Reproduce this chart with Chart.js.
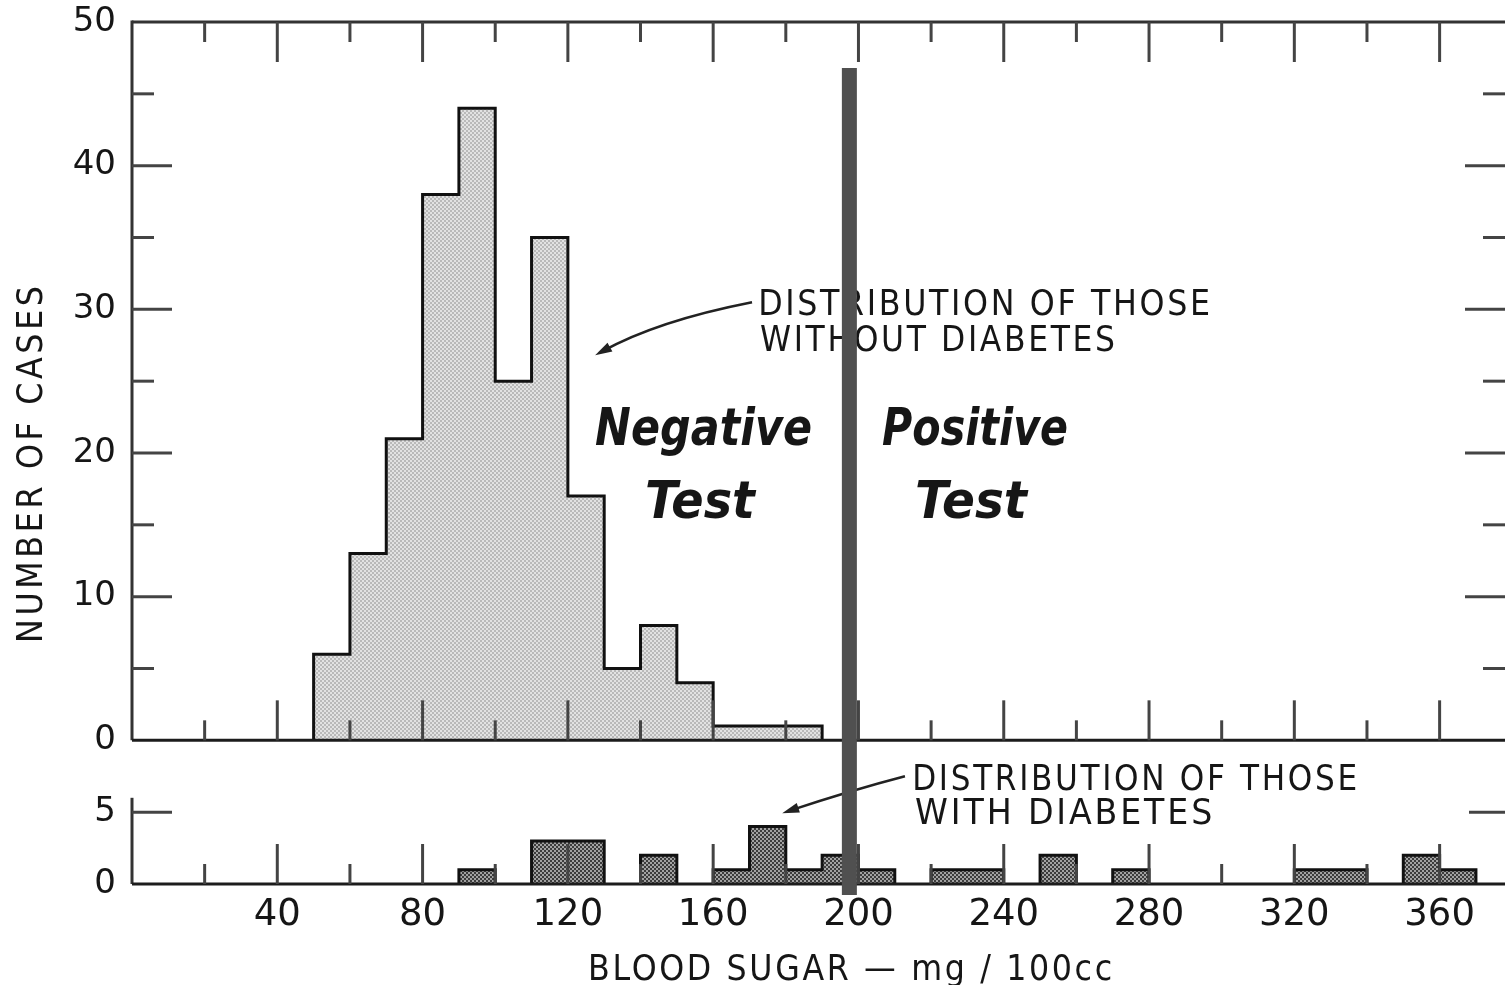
<!DOCTYPE html>
<html>
<head>
<meta charset="utf-8">
<title>Blood sugar</title>
<script src="https://cdn.jsdelivr.net/npm/chart.js@4.4.1/dist/chart.umd.min.js"></script>
<style>
  html, body { margin: 0; padding: 0; background: #fff; }
</style>
</head>
<body>
<canvas id="graficoGlucosa" width="1505" height="985"></canvas>
<script>
/*	Datos: intervalos de 10 mg/100cc (limite inferior) */
const intervalos = [50, 60, 70, 80, 90, 100, 110, 120, 130, 140, 150, 160, 170, 180, 190, 200,
                    210, 220, 230, 240, 250, 260, 270, 280, 290, 300, 310, 320, 330, 340, 350, 360];
const sinDiabetes = [6, 13, 21, 38, 44, 25, 35, 17, 5, 8, 4, 1, 1, 1, 0, 0,
                     0, 0, 0, 0, 0, 0, 0, 0, 0, 0, 0, 0, 0, 0, 0, 0];
const conDiabetes = [0, 0, 0, 0, 1, 0, 3, 3, 0, 2, 0, 1, 4, 1, 2, 1,
                     0, 1, 1, 0, 2, 0, 1, 0, 0, 0, 0, 1, 1, 0, 2, 1];
const etiquetasX = [40, 80, 120, 160, 200, 240, 280, 320, 360];
const etiquetasYSup = [0, 10, 20, 30, 40, 50];
const etiquetasYInf = [0, 5];
const puntoCorte = 197.5;

const FUENTE = '"DejaVu Sans", sans-serif';
const TINTA = '#161616';

// textos anotados (posiciones en unidades de los ejes)
const notas = [
  { txt: 'DISTRIBUTION OF THOSE', x0: 172.4, x1: 296.8, y: 29.6, eje: 'yTop', font: '36px ' + FUENTE, sp: 3 },
  { txt: 'WITHOUT DIABETES', x0: 172.9, x1: 270.6, y: 27.1, eje: 'yTop', font: '36px ' + FUENTE, sp: 3 },
  { txt: 'Negative', x0: 127.5, x1: 187.2, y: 20.55, eje: 'yTop', font: 'bold italic 52px ' + FUENTE, sp: 0 },
  { txt: 'Test', x0: 141.2, x1: 171.5, y: 15.5, eje: 'yTop', font: 'bold italic 52px ' + FUENTE, sp: 0 },
  { txt: 'Positive', x0: 206.5, x1: 257.7, y: 20.55, eje: 'yTop', font: 'bold italic 52px ' + FUENTE, sp: 0 },
  { txt: 'Test', x0: 215.6, x1: 246.4, y: 15.5, eje: 'yTop', font: 'bold italic 52px ' + FUENTE, sp: 0 },
  { txt: 'DISTRIBUTION OF THOSE', x0: 214.8, x1: 337.3, y: 6.54, eje: 'yBot', font: '35px ' + FUENTE, sp: 3 },
  { txt: 'WITH DIABETES', x0: 215.6, x1: 297.4, y: 4.18, eje: 'yBot', font: '35px ' + FUENTE, sp: 3 }
];
const flechas = [
  { eje: 'yTop', desde: [170.7, 30.5], ctrl: [144.5, 29.2], hasta: [127.5, 26.8] },
  { eje: 'yBot', desde: [212.8, 7.5], ctrl: [198.2, 6.54], hasta: [179.0, 4.93] }
];

function trama(fondo, punto) {
  const t = document.createElement('canvas');
  t.width = 4; t.height = 4;
  const g = t.getContext('2d');
  g.fillStyle = fondo; g.fillRect(0, 0, 4, 4);
  g.fillStyle = punto; g.fillRect(0, 0, 2, 2); g.fillRect(2, 2, 2, 2);
  return g.createPattern(t, 'repeat');
}

// contorno escalonado del histograma (sin lineas internas)
function contorno(vals) {
  const pts = [];
  vals.forEach((v, i) => {
    const lo = intervalos[i], hi = lo + 10;
    if (v <= 0) return;
    if (i === 0 || vals[i - 1] === 0) pts.push({ x: lo, y: 0 });
    pts.push({ x: lo, y: v }, { x: hi, y: v });
    if (i === vals.length - 1 || vals[i + 1] === 0) pts.push({ x: hi, y: 0 }, { x: hi, y: null });
  });
  return pts;
}

function barras(vals) {
  return intervalos.map((b, i) => ({ x: b + 5, y: vals[i] }));
}

function textoAjustado(ctx, txt, cx, base, ancho, font, sp) {
  ctx.save();
  ctx.font = font;
  ctx.letterSpacing = sp + 'px';
  const w = ctx.measureText(txt).width - sp;
  ctx.translate(cx, base);
  ctx.scale(ancho / w, 1);
  ctx.textAlign = 'left';
  ctx.textBaseline = 'alphabetic';
  ctx.fillStyle = TINTA;
  ctx.fillText(txt, -w / 2, 0);
  ctx.restore();
}

const marcas = {
  id: 'marcas',
  afterDatasetsDraw(chart) {
    const { ctx, chartArea: a, scales } = chart;
    const { x, yTop, yBot } = scales;
    const top0 = yTop.getPixelForValue(0);
    const bot0 = yBot.getPixelForValue(0);
    const seg = (x1, y1, x2, y2) => { ctx.beginPath(); ctx.moveTo(x1, y1); ctx.lineTo(x2, y2); ctx.stroke(); };

    ctx.save();
    ctx.strokeStyle = '#333';
    ctx.lineWidth = 3;
    ctx.lineCap = 'butt';

    // marco y ejes
    seg(a.left, a.top, a.right, a.top);
    seg(a.left, a.top - 1.5, a.left, top0);
    seg(a.left, yBot.getPixelForValue(6), a.left, bot0);
    ctx.strokeStyle = '#1c1c1c';
    seg(a.left, top0, a.right, top0);
    seg(a.left, bot0, a.right, bot0);

    // marcas hacia dentro
    ctx.strokeStyle = '#444';
    for (let v = 20; v < x.max; v += 20) {
      const px = x.getPixelForValue(v);
      const largo = v % 40 === 0 ? 40 : 20;
      seg(px, a.top, px, a.top + largo);
      seg(px, top0, px, top0 - largo);
      seg(px, bot0, px, bot0 - largo);
    }
    for (let v = 5; v < 50; v += 5) {
      const py = yTop.getPixelForValue(v);
      const largo = v % 10 === 0 ? 40 : 22;
      seg(a.left, py, a.left + largo, py);
      seg(a.right, py, a.right - largo, py);
    }
    const p5 = yBot.getPixelForValue(5);
    seg(a.left, p5, a.left + 40, p5);
    seg(a.right, p5, a.right - 36, p5);
    ctx.restore();

    // anotaciones
    notas.forEach(n => {
      const x0 = x.getPixelForValue(n.x0), x1 = x.getPixelForValue(n.x1);
      textoAjustado(ctx, n.txt, (x0 + x1) / 2, scales[n.eje].getPixelForValue(n.y), x1 - x0, n.font, n.sp);
    });

    ctx.save();
    ctx.strokeStyle = '#222';
    ctx.fillStyle = '#222';
    ctx.lineWidth = 2.5;
    flechas.forEach(f => {
      const s = scales[f.eje];
      const p0 = [x.getPixelForValue(f.desde[0]), s.getPixelForValue(f.desde[1])];
      const c = [x.getPixelForValue(f.ctrl[0]), s.getPixelForValue(f.ctrl[1])];
      const p2 = [x.getPixelForValue(f.hasta[0]), s.getPixelForValue(f.hasta[1])];
      const ang = Math.atan2(p2[1] - c[1], p2[0] - c[0]);
      ctx.beginPath();
      ctx.moveTo(p0[0], p0[1]);
      ctx.quadraticCurveTo(c[0], c[1], p2[0] - 8 * Math.cos(ang), p2[1] - 8 * Math.sin(ang));
      ctx.stroke();
      ctx.beginPath();
      ctx.moveTo(p2[0], p2[1]);
      ctx.lineTo(p2[0] - 17 * Math.cos(ang) + 5 * Math.sin(ang), p2[1] - 17 * Math.sin(ang) - 5 * Math.cos(ang));
      ctx.lineTo(p2[0] - 17 * Math.cos(ang) - 5 * Math.sin(ang), p2[1] - 17 * Math.sin(ang) + 5 * Math.cos(ang));
      ctx.closePath();
      ctx.fill();
    });
    ctx.restore();

    // titulos de ejes
    ctx.save();
    ctx.translate(30, yTop.getPixelForValue(19.2));
    ctx.rotate(-Math.PI / 2);
    textoAjustado(ctx, 'NUMBER OF CASES', 0, 12, 357, '35px ' + FUENTE, 4);
    ctx.restore();
    textoAjustado(ctx, 'BLOOD SUGAR \u2014 mg / 100cc', x.getPixelForValue(197.7), 980, 524, '36px ' + FUENTE, 3);

    // linea de corte
    ctx.save();
    ctx.strokeStyle = '#505050';
    ctx.lineWidth = 15;
    const pc = x.getPixelForValue(puntoCorte);
    seg(pc, yTop.getPixelForValue(46.8), pc, bot0 + 11);
    ctx.restore();
  }
};

const ctx = document.getElementById('graficoGlucosa');
const bordeHist = { type: 'line', borderColor: '#111', borderWidth: 3, pointRadius: 0, fill: false,
                    spanGaps: false, tension: 0, borderJoinStyle: 'miter', order: 0 };
const barraHist = { type: 'bar', borderWidth: 0, barPercentage: 1, categoryPercentage: 1, grouped: false, order: 1 };
const ticksFont = size => ({ family: 'DejaVu Sans', size: size });
// las marcas las dibuja el plugin; tickLength solo separa las etiquetas del eje
const sinRejilla = { display: false, drawTicks: true, tickLength: 16 };

new Chart(ctx, {
  type: 'bar',
  data: {
    datasets: [
      Object.assign({}, bordeHist, { data: contorno(sinDiabetes), yAxisID: 'yTop' }),
      Object.assign({}, bordeHist, { data: contorno(conDiabetes), yAxisID: 'yBot' }),
      Object.assign({}, barraHist, { data: barras(sinDiabetes), yAxisID: 'yTop', backgroundColor: trama('#e2e2e2', '#b9b9b9') }),
      Object.assign({}, barraHist, { data: barras(conDiabetes), yAxisID: 'yBot', backgroundColor: trama('#3c3c3c', '#a2a2a2') })
    ]
  },
  options: {
    responsive: false,
    animation: false,
    layout: { padding: { top: 22, right: 0, bottom: 0, left: 0 } },
    plugins: { legend: { display: false }, tooltip: { enabled: false } },
    scales: {
      x: {
        type: 'linear', min: 0, max: 378, offset: false,
        grid: { display: false, drawTicks: false }, border: { display: false },
        afterBuildTicks: s => { s.ticks = etiquetasX.map(v => ({ value: v })); },
        afterFit: s => { s.height = 101; },
        ticks: { font: ticksFont(37), color: TINTA, padding: 9, maxRotation: 0, autoSkip: false }
      },
      yBot: {
        type: 'linear', position: 'left', stack: 'paneles', stackWeight: 10, min: 0, max: 10, offset: false,
        grid: sinRejilla, border: { display: false },
        afterBuildTicks: s => { s.ticks = etiquetasYInf.map(v => ({ value: v })); },
        afterFit: s => { s.width = 132; },
        ticks: { font: ticksFont(34), color: TINTA, padding: 0 }
      },
      yTop: {
        type: 'linear', position: 'left', stack: 'paneles', stackWeight: 50, min: 0, max: 50, offset: false,
        grid: sinRejilla, border: { display: false },
        afterBuildTicks: s => { s.ticks = etiquetasYSup.map(v => ({ value: v })); },
        afterFit: s => { s.width = 132; },
        ticks: { font: ticksFont(34), color: TINTA, padding: 0 }
      }
    }
  },
  plugins: [marcas]
});
</script>
</body>
</html>
